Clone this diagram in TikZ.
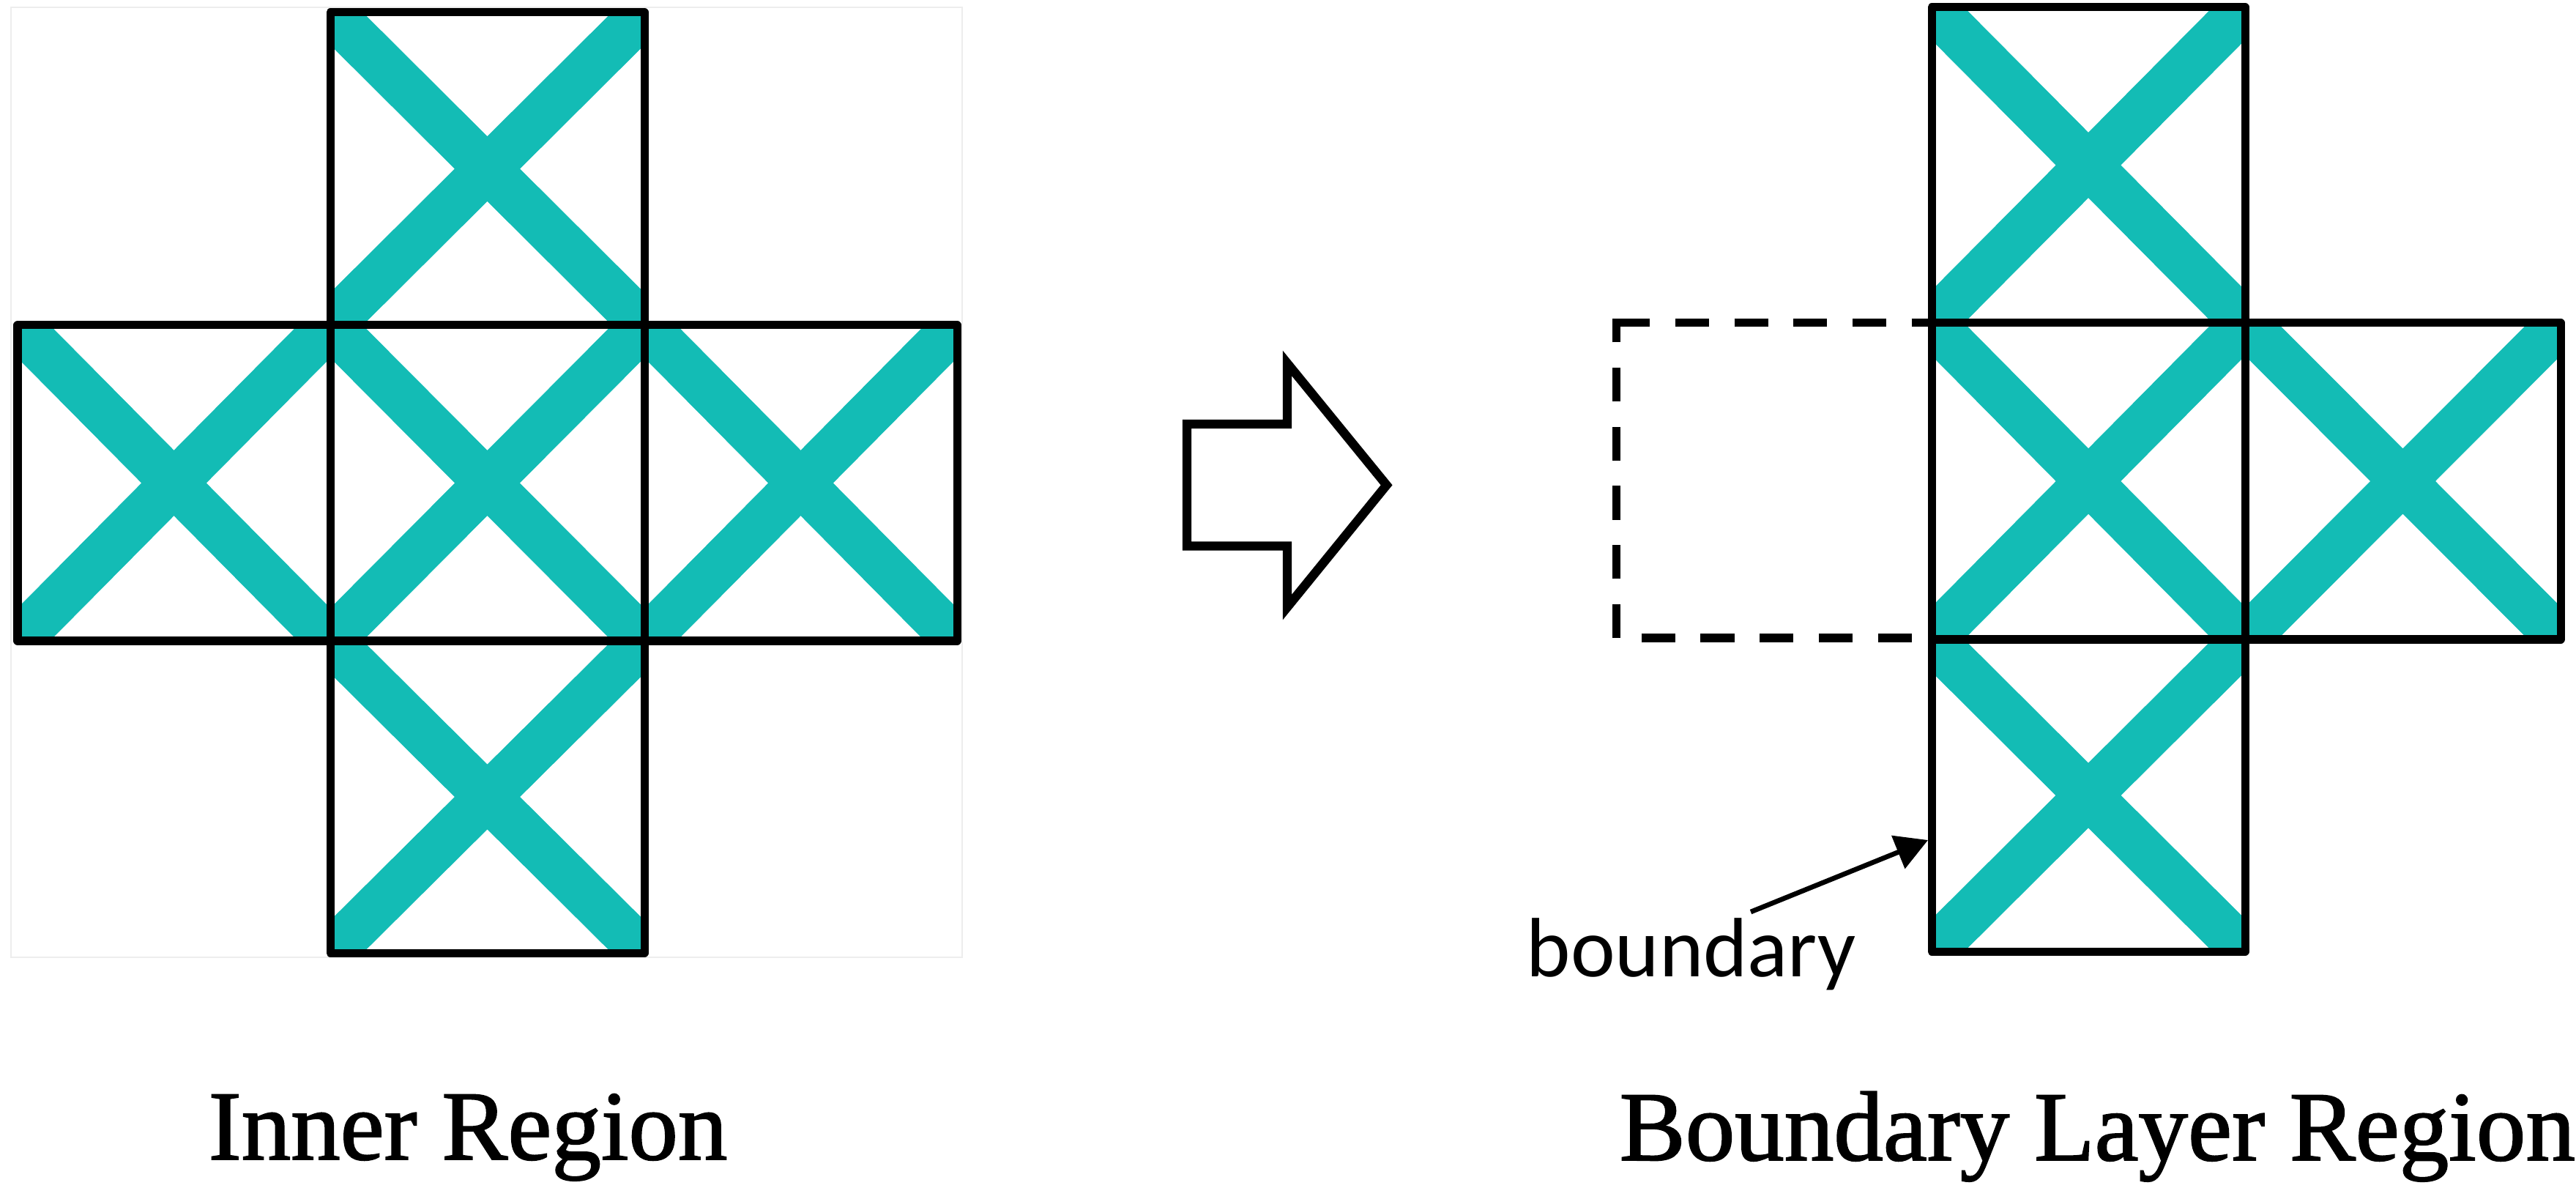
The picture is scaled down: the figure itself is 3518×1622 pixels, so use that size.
\documentclass[tikz,border=0pt]{standalone}
\usepackage{fontspec}
\setmainfont{Liberation Serif}
\newfontfamily\capfont{Liberation Serif}[FakeBold=1.4]
\newfontfamily\calibfont{Carlito}
\usetikzlibrary{arrows.meta}
\definecolor{stripeteal}{RGB}{19,188,181}
\newcommand\tealcell[4]{%
  \begin{scope}
    \clip (#1,#2) rectangle (#3,#4);
    \draw[tealstripe] (#1,#2) -- (#3,#4) (#1,#4) -- (#3,#2);
  \end{scope}}
\tikzset{
  tealstripe/.style={draw=stripeteal, line width=17.9pt, line cap=butt},
  gridline/.style={draw=black, line width=3.13pt, line join=round},
  dashline/.style={draw=black, line width=3.13pt, dash pattern=on 13.09pt off 9.87pt},
  hollowarrow/.style={draw=black, line width=3.5pt, line join=miter, fill=white},
  caption/.style={anchor=base west, inner sep=0pt, font=\capfont\fontsize{38.4}{46}\selectfont},
  smalllabel/.style={anchor=base west, inner sep=0pt, font=\calibfont\fontsize{32.7}{39}\selectfont},
  pointer/.style={draw=black, line width=1.9pt, -{Triangle[length=12.5pt,width=13.5pt]}}
}
\begin{document}
\begin{tikzpicture}[x=0.01cm, y=-0.01cm]
\useasboundingbox (0,0) rectangle (3518,1622);
% faint frame of the left picture
\draw[black!7, line width=0.6pt] (15,10) rectangle (1314,1307);
% ---------- left: inner region ----------
\tealcell{451}{17}{880}{444}
\tealcell{24}{444}{451}{875}
\tealcell{451}{444}{880}{875}
\tealcell{880}{444}{1307}{875}
\tealcell{451}{875}{880}{1301}
\draw[gridline] (24,444) rectangle (1307,875);
\draw[gridline] (451,17) rectangle (880,1301);
% ---------- hollow arrow ----------
\draw[hollowarrow] (1621,579) -- (1758,579) -- (1758,496) -- (1893.6,662.3)
  -- (1758,829) -- (1758,745.5) -- (1621,745.5) -- cycle;
% ---------- right: boundary layer region ----------
\tealcell{2638}{10}{3066}{441}
\tealcell{2638}{441}{3066}{873}
\tealcell{3066}{441}{3497}{873}
\tealcell{2638}{873}{3066}{1299}
\draw[dashline] (2207,441) -- (2638,441);
\draw[dashline] (2207,871) -- (2207,435.5);
\draw[dashline, dash phase=13.09pt] (2207,871) -- (2638,871);
\draw[gridline] (2638,10) rectangle (3066,1299);
\draw[gridline] (2638,441) rectangle (3497,873);
% ---------- labels ----------
\node[smalllabel] (blabel) at (2084,1333) {boundary};
\coordinate (bstart) at (2391,1245);
\coordinate (btip) at (2633,1147);
\draw[pointer] (bstart) -- (btip);
\node[caption] (innercap) at (284,1583) {Inner Region};
\node[caption] (blcap) at (2211,1584) {Boundary Layer Region};
\end{tikzpicture}
\end{document}
